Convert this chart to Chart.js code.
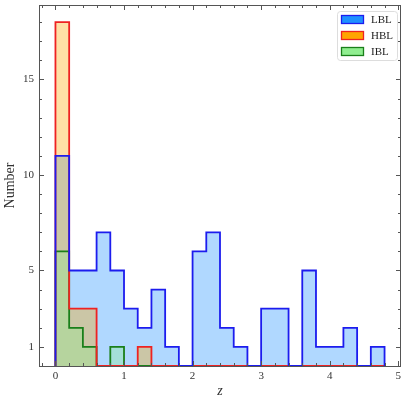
<!DOCTYPE html>
<html>
<head>
<meta charset="utf-8">
<script src="https://cdn.jsdelivr.net/npm/chart.js@4"></script>
<style>
  body { margin: 0; background: #fff; }
  canvas { display: block; }
</style>
</head>
<body>
<canvas id="zChart" width="407" height="404"></canvas>
<script>
// bordes de los bins en z y cuentas por clase
const binEdges = [0, 0.2, 0.4, 0.6, 0.8, 1.0, 1.2, 1.4, 1.6, 1.8, 2.0, 2.2, 2.4,
  2.6, 2.8, 3.0, 3.2, 3.4, 3.6, 3.8, 4.0, 4.2, 4.4, 4.6, 4.8];
const lblCounts = [11, 5, 5, 7, 5, 3, 2, 4, 1, 0, 6, 7, 2, 1, 0, 3, 3, 0, 5, 1, 1, 2, 0, 1];
const hblCounts = [18, 3, 3, 0, 0, 0, 1, 0, 0, 0, 0, 0, 0, 0, 0, 0, 0, 0, 0, 0, 0, 0, 0, 0];
const iblCounts = [6, 2, 1, 0, 1, 0, 0, 0, 0, 0, 0, 0, 0, 0, 0, 0, 0, 0, 0, 0, 0, 0, 0, 0];
const classNames = ['LBL', 'HBL', 'IBL'];
const xTicks = [0, 1, 2, 3, 4, 5];
const yTicks = [1, 5, 10, 15];

const fillColors = ['rgba(30,144,255,0.35)', 'rgba(255,165,0,0.35)', 'rgba(144,238,144,0.35)'];
const legendColors = ['#1e90ff', '#ffa500', '#90ee90'];
const edgeColors = ['#1c1cee', '#ee2222', '#1a7f1a'];
const serif = '"Liberation Serif", "DejaVu Serif", serif';

// contorno en escalera del histograma
function stepPoints(counts) {
  const pts = [{ x: binEdges[0], y: 0 }];
  counts.forEach((c, i) => {
    pts.push({ x: binEdges[i], y: c });
    pts.push({ x: binEdges[i + 1], y: c });
  });
  pts.push({ x: binEdges[binEdges.length - 1], y: 0 });
  return pts;
}

const allCounts = [lblCounts, hblCounts, iblCounts];
const datasets = [];
// rellenos primero (azul abajo), luego contornos (azul arriba)
allCounts.forEach((counts, i) => {
  datasets.push({
    label: classNames[i] + ' fill',
    data: stepPoints(counts),
    backgroundColor: fillColors[i],
    borderWidth: 0,
    fill: 'origin',
    pointRadius: 0,
    order: 6 - i
  });
});
allCounts.forEach((counts, i) => {
  datasets.push({
    label: classNames[i],
    data: stepPoints(counts),
    borderColor: edgeColors[i],
    borderWidth: 1.8,
    fill: false,
    pointRadius: 0,
    order: 1 + i
  });
});

function rangeTicks(from, to, step) {
  const out = [];
  for (let v = from; v <= to + 1e-9; v += step) out.push(Math.round(v * 100) / 100);
  return out;
}

const frameAndTicks = {
  id: 'frameAndTicks',
  beforeDatasetsDraw(chart) {
    const { ctx, chartArea: a } = chart;
    ctx.save();
    ctx.strokeStyle = '#555';
    ctx.lineWidth = 1;
    ctx.strokeRect(a.left + 0.5, a.top + 0.5, a.right - a.left - 1, a.bottom - a.top);
    ctx.restore();
  },
  afterDatasetsDraw(chart) {
    const { ctx, chartArea: a, scales } = chart;
    ctx.save();
    ctx.strokeStyle = '#555';
    ctx.lineWidth = 1;
    ctx.beginPath();
    const xs = scales.x, ys = scales.y;
    rangeTicks(-0.2, 5.0, 0.2).forEach(v => {
      const major = Math.abs(v - Math.round(v)) < 1e-6;
      const len = major ? 5 : 3;
      const px = Math.round(xs.getPixelForValue(v)) + 0.5;
      ctx.moveTo(px, a.bottom); ctx.lineTo(px, a.bottom - len);
      ctx.moveTo(px, a.top); ctx.lineTo(px, a.top + len);
    });
    rangeTicks(1, 18, 1).forEach(v => {
      const major = yTicks.includes(v);
      const len = major ? 5 : 3;
      const py = Math.round(ys.getPixelForValue(v)) + 0.5;
      ctx.moveTo(a.left, py); ctx.lineTo(a.left + len, py);
      ctx.moveTo(a.right, py); ctx.lineTo(a.right - len, py);
    });
    ctx.stroke();
    ctx.restore();
  },
  afterDraw(chart) {
    // leyenda en la esquina superior derecha
    const { ctx, chartArea: a } = chart;
    const boxW = 60, boxH = 49;
    const bx = a.right - 4 - boxW, by = a.top + 6;
    ctx.save();
    ctx.fillStyle = 'rgba(255,255,255,0.8)';
    ctx.strokeStyle = '#dddddd';
    ctx.lineWidth = 1;
    ctx.beginPath();
    ctx.roundRect(bx + 0.5, by + 0.5, boxW, boxH, 3);
    ctx.fill();
    ctx.stroke();
    ctx.font = '11px ' + serif;
    ctx.textBaseline = 'middle';
    classNames.forEach((name, i) => {
      const cy = by + 8.5 + i * 16;
      ctx.fillStyle = legendColors[i];
      ctx.fillRect(bx + 4.5, cy - 4, 22, 8);
      ctx.strokeStyle = edgeColors[i];
      ctx.lineWidth = 1.3;
      ctx.strokeRect(bx + 4.5, cy - 4, 22, 8);
      ctx.fillStyle = '#222';
      ctx.fillText(name, bx + 34, cy + 0.5);
    });
    ctx.restore();
  }
};

new Chart(document.getElementById('zChart'), {
  type: 'line',
  data: { datasets: datasets },
  plugins: [frameAndTicks],
  options: {
    responsive: false,
    animation: false,
    layout: { padding: { left: 0, right: 6, top: 5, bottom: 0 } },
    plugins: { legend: { display: false }, tooltip: { enabled: false } },
    scales: {
      x: {
        type: 'linear',
        min: -0.24,
        max: 5.04,
        grid: { display: false, drawTicks: false },
        border: { display: false },
        afterBuildTicks: s => { s.ticks = xTicks.map(v => ({ value: v })); },
        afterFit: s => { s.height = 38; s.paddingLeft = 0; s.paddingRight = 0; },
        ticks: { padding: 4, color: '#333', font: { family: serif, size: 11 } },
        title: {
          display: true,
          text: 'z',
          color: '#333',
          padding: { top: 0, bottom: 4 },
          font: { family: 'Liberation Serif', size: 14, style: 'italic' }
        }
      },
      y: {
        min: 0,
        max: 18.9,
        grid: { display: false, drawTicks: false },
        border: { display: false },
        afterBuildTicks: s => { s.ticks = yTicks.map(v => ({ value: v })); },
        afterFit: s => { s.width = 39; s.paddingTop = 0; s.paddingBottom = 0; },
        ticks: { padding: 5, color: '#333', font: { family: serif, size: 11 } },
        title: {
          display: true,
          text: 'Number',
          color: '#333',
          padding: { top: 2, bottom: 0 },
          font: { family: serif, size: 14 }
        }
      }
    }
  }
});
</script>
</body>
</html>
